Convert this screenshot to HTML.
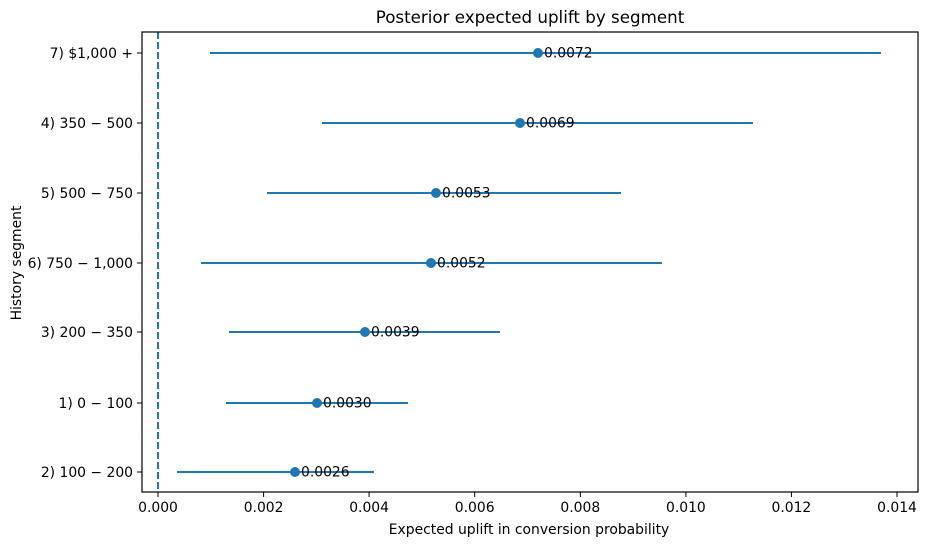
<!DOCTYPE html>
<html><head><meta charset="utf-8"><style>body{margin:0;background:#fff}</style></head><body>
<svg width="927" height="547" xmlns="http://www.w3.org/2000/svg" font-family="'DejaVu Sans', 'Liberation Sans', sans-serif" font-size="13.9">
<rect width="927" height="547" fill="#fff"/>
<line x1="158" y1="32" x2="158" y2="492" stroke="#1f77b4" stroke-width="2" stroke-dasharray="7,3"/>
<g stroke="#1f77b4" stroke-width="2">
<line x1="210" y1="53" x2="881" y2="53"/>
<line x1="322" y1="123" x2="753" y2="123"/>
<line x1="267" y1="193" x2="621" y2="193"/>
<line x1="201" y1="263" x2="662" y2="263"/>
<line x1="229" y1="332" x2="500" y2="332"/>
<line x1="226" y1="403" x2="408" y2="403"/>
<line x1="177" y1="472" x2="374" y2="472"/>
</g>
<g fill="#1f77b4">
<circle cx="538" cy="53" r="5"/><circle cx="520" cy="123" r="5"/><circle cx="436" cy="193" r="5"/>
<circle cx="431" cy="263" r="5"/><circle cx="365" cy="332" r="5"/><circle cx="317" cy="403" r="5"/><circle cx="295" cy="472" r="5"/>
</g>
<g fill="#000">
<text x="544" y="57.5">0.0072</text><text x="526" y="127.5">0.0069</text><text x="442" y="197.5">0.0053</text>
<text x="437" y="267.5">0.0052</text><text x="371" y="336.5">0.0039</text><text x="323" y="407.5">0.0030</text><text x="301" y="476.5">0.0026</text>
</g>
<rect x="142" y="32" width="776" height="460" fill="none" stroke="#000" stroke-width="1.2"/>
<g stroke="#000">
<line x1="137" y1="53" x2="142" y2="53"/><line x1="137" y1="123" x2="142" y2="123"/><line x1="137" y1="193" x2="142" y2="193"/>
<line x1="137" y1="263" x2="142" y2="263"/><line x1="137" y1="332" x2="142" y2="332"/><line x1="137" y1="403" x2="142" y2="403"/><line x1="137" y1="472" x2="142" y2="472"/>
<line x1="158" y1="492" x2="158" y2="497"/><line x1="263.6" y1="492" x2="263.6" y2="497"/><line x1="369.1" y1="492" x2="369.1" y2="497"/>
<line x1="474.7" y1="492" x2="474.7" y2="497"/><line x1="580.3" y1="492" x2="580.3" y2="497"/><line x1="685.9" y1="492" x2="685.9" y2="497"/>
<line x1="791.4" y1="492" x2="791.4" y2="497"/><line x1="897" y1="492" x2="897" y2="497"/>
</g>
<g text-anchor="end" fill="#000">
<text x="133" y="58">7) $1,000 +</text><text x="133" y="128">4) 350 − 500</text><text x="133" y="198">5) 500 − 750</text>
<text x="133" y="268">6) 750 − 1,000</text><text x="133" y="337">3) 200 − 350</text><text x="133" y="408">1) 0 − 100</text><text x="133" y="477">2) 100 − 200</text>
</g>
<g text-anchor="middle" fill="#000">
<text x="158" y="512">0.000</text><text x="263.6" y="512">0.002</text><text x="369.1" y="512">0.004</text><text x="474.7" y="512">0.006</text>
<text x="580.3" y="512">0.008</text><text x="685.9" y="512">0.010</text><text x="791.4" y="512">0.012</text><text x="897" y="512">0.014</text>
<text x="529" y="534">Expected uplift in conversion probability</text>
<text x="530" y="23" font-size="16.7">Posterior expected uplift by segment</text>
<text x="0" y="0" transform="translate(21,263) rotate(-90)">History segment</text>
</g>
</svg>
</body></html>
